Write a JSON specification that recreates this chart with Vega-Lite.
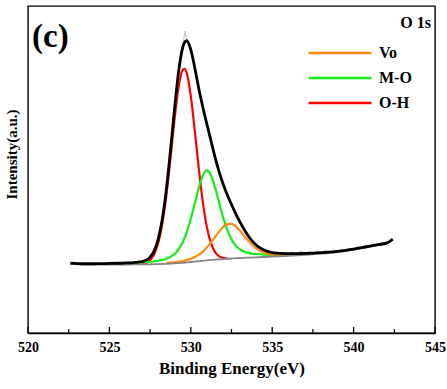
{
  "$schema": "https://vega.github.io/schema/vega-lite/v6.json",
  "autosize": "none",
  "width": 407,
  "height": 327,
  "padding": {"left": 28, "top": 6, "right": 12, "bottom": 56},
  "background": "white",
  "config": {
    "view": {"stroke": "black", "strokeWidth": 1.4},
    "font": "Liberation Serif",
    "axisY": {
      "labels": false, "ticks": false, "domain": false, "grid": false,
      "titleFont": "Liberation Serif", "titleFontWeight": "bold", "titleFontSize": 15, "titleColor": "black",
      "titlePadding": 9
    },
    "legend": {
      "labelFont": "Liberation Serif", "labelFontWeight": "bold", "labelFontSize": 16, "labelColor": "black"
    }
  },
  "datasets": {
    "fit": [
      {"x":522.6,"y":69.9},{"x":523,"y":69.45},{"x":523.5,"y":69.24},{"x":524,"y":69.24},{"x":524.5,"y":69.37},{"x":525,"y":69.53},{"x":525.5,"y":69.73},{"x":526,"y":70.08},{"x":526.5,"y":70.47},{"x":526.75,"y":70.81},{"x":527,"y":71.51},{"x":527.25,"y":72.85},{"x":527.5,"y":75.89},{"x":527.75,"y":82.16},{"x":528,"y":94.04},{"x":528.25,"y":114.11},{"x":528.5,"y":143.93},{"x":528.75,"y":182.28},{"x":529,"y":224.02},{"x":529.25,"y":261.16},{"x":529.5,"y":285.31},{"x":529.6,"y":290.25},{"x":529.75,"y":292.27},{"x":530,"y":283.35},{"x":530.25,"y":264.62},{"x":530.5,"y":243.66},{"x":530.75,"y":225.03},{"x":531,"y":208.1},{"x":531.25,"y":191.5},{"x":531.5,"y":175.1},{"x":531.75,"y":160.55},{"x":532,"y":148.27},{"x":532.25,"y":137.84},{"x":532.5,"y":128.5},{"x":532.75,"y":119.7},{"x":533,"y":111.57},{"x":533.25,"y":104.2},{"x":533.5,"y":97.79},{"x":533.75,"y":92.44},{"x":534,"y":88.29},{"x":534.25,"y":85.11},{"x":534.5,"y":82.9},{"x":534.75,"y":81.41},{"x":535,"y":80.44},{"x":535.5,"y":79.57},{"x":536,"y":79.28},{"x":536.5,"y":79.38},{"x":537,"y":79.57},{"x":537.5,"y":79.95},{"x":538,"y":80.36},{"x":538.5,"y":80.92},{"x":539,"y":81.7},{"x":539.5,"y":82.7},{"x":540,"y":83.9},{"x":540.5,"y":85.35},{"x":541,"y":86.8},{"x":541.5,"y":88.35},{"x":542,"y":89.91},{"x":542.2,"y":91.4},{"x":542.4,"y":93.9}
    ],
    "bg": [
      {"x":522.6,"y":69.3},{"x":523,"y":68.8},{"x":523.5,"y":68.5},{"x":524,"y":68.4},{"x":525,"y":68.4},{"x":526,"y":68.5},{"x":527,"y":68.6},{"x":527.5,"y":68.7},{"x":528,"y":68.9},{"x":528.5,"y":69.2},{"x":529,"y":69.6},{"x":529.5,"y":70.2},{"x":530,"y":71.0},{"x":530.5,"y":71.8},{"x":531,"y":72.6},{"x":531.5,"y":73.3},{"x":532,"y":73.9},{"x":532.5,"y":74.5},{"x":533,"y":74.9},{"x":533.5,"y":75.3},{"x":534,"y":75.7},{"x":534.5,"y":76.0},{"x":535,"y":76.3},{"x":535.5,"y":76.7},{"x":536,"y":77.1},{"x":536.5,"y":77.6},{"x":537,"y":78.1},{"x":537.5,"y":78.7},{"x":538,"y":79.3},{"x":538.5,"y":80.0},{"x":539,"y":80.9},{"x":539.5,"y":82.0},{"x":540,"y":83.3},{"x":540.5,"y":84.8},{"x":541,"y":86.3},{"x":541.5,"y":87.9},{"x":542,"y":89.5},{"x":542.2,"y":91.0},{"x":542.4,"y":93.5}
    ],
    "raw": [
      {"x":522.6,"y":70.5},{"x":522.8,"y":69.2},{"x":523,"y":70.4},{"x":523.25,"y":68.6},{"x":523.5,"y":69.8},{"x":523.75,"y":68.4},{"x":524,"y":69.9},{"x":524.25,"y":68.7},{"x":524.5,"y":70.0},{"x":524.75,"y":68.9},{"x":525,"y":69.2},{"x":525.25,"y":70.3},{"x":525.5,"y":69.0},{"x":525.75,"y":70.6},{"x":526,"y":69.6},{"x":526.25,"y":71.2},{"x":526.5,"y":70.1},{"x":526.75,"y":72.0},{"x":527,"y":71.0},{"x":527.25,"y":73.2},{"x":527.5,"y":75.5},{"x":527.75,"y":82.8},{"x":528,"y":93.5},{"x":528.25,"y":115.0},{"x":528.5,"y":143.0},{"x":528.75,"y":183.5},{"x":529,"y":223.0},{"x":529.25,"y":262.5},{"x":529.5,"y":287.0},{"x":529.65,"y":302.0},{"x":529.75,"y":293.5},{"x":530,"y":282.0},{"x":530.25,"y":266.0},{"x":530.5,"y":242.5},{"x":530.75,"y":226.5},{"x":531,"y":207.0},{"x":531.25,"y":193.0},{"x":531.5,"y":174.0},{"x":531.75,"y":161.5},{"x":532,"y":147.0},{"x":532.25,"y":139.0},{"x":532.5,"y":127.5},{"x":532.75,"y":121.0},{"x":533,"y":110.5},{"x":533.25,"y":105.0},{"x":533.5,"y":97.0},{"x":533.75,"y":93.5},{"x":534,"y":87.5},{"x":534.25,"y":86.5},{"x":534.5,"y":82.0},{"x":534.75,"y":83.0},{"x":535,"y":79.8},{"x":535.25,"y":81.5},{"x":535.5,"y":78.8},{"x":535.75,"y":80.6},{"x":536,"y":78.5},{"x":536.25,"y":81.0},{"x":536.5,"y":79.0},{"x":536.75,"y":82.0},{"x":537,"y":79.2},{"x":537.25,"y":81.5},{"x":537.5,"y":79.5},{"x":537.75,"y":82.2},{"x":538,"y":80.0},{"x":538.25,"y":83.0},{"x":538.5,"y":80.4},{"x":538.75,"y":83.5},{"x":539,"y":81.0},{"x":539.25,"y":84.0},{"x":539.5,"y":82.0},{"x":539.75,"y":85.0},{"x":540,"y":83.5},{"x":540.25,"y":86.5},{"x":540.5,"y":85.0},{"x":540.75,"y":88.5},{"x":541,"y":86.2},{"x":541.25,"y":89.5},{"x":541.5,"y":87.5},{"x":541.75,"y":91.0},{"x":542,"y":88.5},{"x":542.2,"y":90.5},{"x":542.4,"y":94.5}
    ],
    "comp": [
      {"s":"O-H","x":527,"y":69.12},{"s":"O-H","x":527.25,"y":70.16},{"s":"O-H","x":527.5,"y":72.85},{"s":"O-H","x":527.75,"y":78.68},{"s":"O-H","x":528,"y":90.0},{"s":"O-H","x":528.25,"y":109.3},{"s":"O-H","x":528.5,"y":138.0},{"s":"O-H","x":528.75,"y":174.6},{"s":"O-H","x":529,"y":213.5},{"s":"O-H","x":529.25,"y":246.0},{"s":"O-H","x":529.5,"y":263.1},{"s":"O-H","x":529.6,"y":264.25},{"s":"O-H","x":529.75,"y":259.7},{"s":"O-H","x":530,"y":236.9},{"s":"O-H","x":530.25,"y":201.6},{"s":"O-H","x":530.5,"y":163.2},{"s":"O-H","x":530.75,"y":129.7},{"s":"O-H","x":531,"y":104.9},{"s":"O-H","x":531.25,"y":89.3},{"s":"O-H","x":531.5,"y":80.6},{"s":"O-H","x":531.75,"y":76.55},{"s":"O-H","x":532,"y":74.97},{"s":"O-H","x":532.25,"y":74.54},
      {"s":"M-O","x":526.5,"y":70.05},{"s":"M-O","x":527,"y":70.54},{"s":"M-O","x":527.5,"y":71.2},{"s":"M-O","x":528,"y":72.28},{"s":"M-O","x":528.25,"y":73.07},{"s":"M-O","x":528.5,"y":74.29},{"s":"M-O","x":528.75,"y":76.12},{"s":"M-O","x":529,"y":79.0},{"s":"M-O","x":529.25,"y":83.7},{"s":"M-O","x":529.5,"y":90.7},{"s":"M-O","x":529.75,"y":100.9},{"s":"M-O","x":530,"y":114.3},{"s":"M-O","x":530.25,"y":129.9},{"s":"M-O","x":530.5,"y":145.7},{"s":"M-O","x":530.75,"y":158.1},{"s":"M-O","x":531,"y":162.6},{"s":"M-O","x":531.25,"y":157.4},{"s":"M-O","x":531.5,"y":144.9},{"s":"M-O","x":531.75,"y":129.6},{"s":"M-O","x":532,"y":114.9},{"s":"M-O","x":532.25,"y":102.8},{"s":"M-O","x":532.5,"y":93.8},{"s":"M-O","x":532.75,"y":87.6},{"s":"M-O","x":533,"y":83.77},{"s":"M-O","x":533.25,"y":81.5},{"s":"M-O","x":533.5,"y":80.19},{"s":"M-O","x":533.75,"y":79.44},{"s":"M-O","x":534,"y":78.99},{"s":"M-O","x":534.5,"y":78.44},{"s":"M-O","x":535,"y":78.2},{"s":"M-O","x":535.5,"y":78.22},{"s":"M-O","x":536,"y":78.34},{"s":"M-O","x":536.5,"y":78.64},
      {"s":"Vo","x":528.5,"y":70.04},{"s":"Vo","x":529,"y":70.72},{"s":"Vo","x":529.5,"y":71.91},{"s":"Vo","x":530,"y":74.15},{"s":"Vo","x":530.25,"y":75.92},{"s":"Vo","x":530.5,"y":78.36},{"s":"Vo","x":530.75,"y":81.63},{"s":"Vo","x":531,"y":85.8},{"s":"Vo","x":531.25,"y":90.8},{"s":"Vo","x":531.5,"y":96.2},{"s":"Vo","x":531.75,"y":101.6},{"s":"Vo","x":532,"y":106.2},{"s":"Vo","x":532.25,"y":108.9},{"s":"Vo","x":532.5,"y":109.1},{"s":"Vo","x":532.75,"y":106.8},{"s":"Vo","x":533,"y":102.7},{"s":"Vo","x":533.25,"y":97.8},{"s":"Vo","x":533.5,"y":92.9},{"s":"Vo","x":533.75,"y":88.5},{"s":"Vo","x":534,"y":85.0},{"s":"Vo","x":534.25,"y":82.31},{"s":"Vo","x":534.5,"y":80.46},{"s":"Vo","x":534.75,"y":79.26},{"s":"Vo","x":535,"y":78.54},{"s":"Vo","x":535.5,"y":78.05},{"s":"Vo","x":536,"y":78.04}
    ],
    "majorTicks": [{"t":520},{"t":525},{"t":530},{"t":535},{"t":540},{"t":545}],
    "minorTicks": [{"t":522.5},{"t":527.5},{"t":532.5},{"t":537.5},{"t":542.5}],
    "notes": [
      {"label": "(c)"},
      {"label": "O 1s"}
    ]
  },
  "layer": [
    {
      "encoding": {
        "x": {
          "field": "x", "type": "quantitative",
          "scale": {"domain": [520, 545], "nice": false, "zero": false},
          "axis": {
            "title": "Binding Energy(eV)",
            "values": [520, 525, 530, 535, 540, 545],
            "labelFlush": false,
            "domain": true,
            "ticks": false,
            "labelFont": "Liberation Serif", "labelFontWeight": "bold", "labelFontSize": 14, "labelColor": "#000000",
            "labelPadding": 7,
            "domainColor": "#000000", "domainWidth": 1.5, "grid": false,
            "titleFont": "Liberation Serif", "titleFontWeight": "bold", "titleFontSize": 17, "titleColor": "#000000",
            "titlePadding": 6
          }
        },
        "y": {
          "field": "y", "type": "quantitative",
          "scale": {"domain": [0, 327], "nice": false, "zero": false},
          "axis": {"title": "Intensity(a.u.)", "titleY": 148}
        }
      },
      "layer": [
        {
          "data": {"name": "comp"},
          "mark": {"type": "line", "strokeWidth": 2.2, "interpolate": "monotone"},
          "encoding": {
            "color": {
              "field": "s", "type": "nominal",
              "scale": {"domain": ["Vo", "M-O", "O-H"], "range": ["#FF8A14", "#14EE14", "#FF0000"]},
              "legend": {
                "title": null, "orient": "none", "legendX": 300, "legendY": 35,
                "symbolType": "M-3,0H3", "symbolSize": 441, "symbolStrokeWidth": 2.4,
                "labelOffset": 27, "rowPadding": 5
              }
            }
          }
        },
        {
          "data": {"name": "bg"},
          "mark": {"type": "line", "strokeWidth": 1.8, "color": "#858585", "interpolate": "monotone"}
        },
        {
          "data": {"name": "raw"},
          "mark": {"type": "line", "strokeWidth": 0.8, "color": "#b5b5b5"}
        },
        {
          "data": {"name": "fit"},
          "mark": {"type": "line", "strokeWidth": 2.8, "color": "black", "interpolate": "monotone"}
        }
      ]
    },
    {
      "data": {"name": "majorTicks"},
      "mark": {"type": "rule", "color": "black", "strokeWidth": 1.3},
      "encoding": {
        "x": {"field": "t", "type": "quantitative"},
        "y": {"datum": 0, "type": "quantitative"},
        "y2": {"datum": 6}
      }
    },
    {
      "data": {"name": "minorTicks"},
      "mark": {"type": "rule", "color": "black", "strokeWidth": 1.2},
      "encoding": {
        "x": {"field": "t", "type": "quantitative"},
        "y": {"datum": 0, "type": "quantitative"},
        "y2": {"datum": 4}
      }
    },
    {
      "data": {"name": "notes"},
      "transform": [{"filter": "datum.label === '(c)'"}],
      "mark": {"type": "text", "font": "Liberation Serif", "fontWeight": "bold", "fontSize": 33, "align": "left", "baseline": "middle", "color": "black"},
      "encoding": {
        "text": {"field": "label", "type": "nominal"},
        "x": {"datum": 520.25, "type": "quantitative"},
        "y": {"datum": 296, "type": "quantitative"}
      }
    },
    {
      "data": {"name": "notes"},
      "transform": [{"filter": "datum.label === 'O 1s'"}],
      "mark": {"type": "text", "font": "Liberation Serif", "fontWeight": "bold", "fontSize": 16, "align": "right", "baseline": "middle", "color": "black"},
      "encoding": {
        "text": {"field": "label", "type": "nominal"},
        "x": {"datum": 544.75, "type": "quantitative"},
        "y": {"datum": 310, "type": "quantitative"}
      }
    }
  ]
}
